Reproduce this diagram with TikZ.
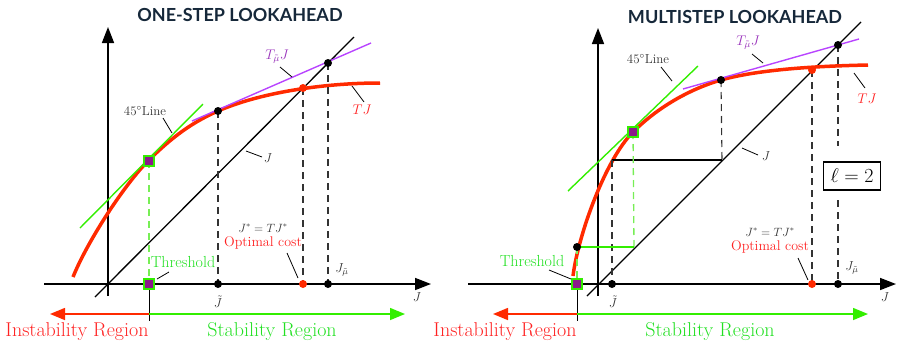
\RequirePackage{fix-cm}
\documentclass[tikz,border=0pt]{standalone}
\usepackage{fontspec}
\newfontfamily\titlefont{Lato}
\usetikzlibrary{arrows.meta}
\definecolor{cred}{HTML}{FF2A00}
\definecolor{cgreen}{HTML}{33EE00}
\definecolor{clgreen}{HTML}{77EE55}
\definecolor{cpurple}{HTML}{B844FF}
\definecolor{cpurplet}{HTML}{9933BB}
\definecolor{ctext}{HTML}{333333}
\definecolor{ctitle}{HTML}{16283A}
\definecolor{csq}{HTML}{8B1A8B}
\definecolor{ctred}{HTML}{FF2222}
\definecolor{ctgreen}{HTML}{22E022}
\begin{document}
\begin{tikzpicture}[x=1pt,y=-1pt,
  axis/.style={line width=1.6pt,-{Triangle[length=16pt,width=12pt]}},
  diag/.style={line width=1.3pt},
  curve/.style={cred,line width=3.5pt},
  tang/.style={cgreen,line width=1.4pt},
  plin/.style={cpurple,line width=1.4pt},
  dropline/.style={ctext,line width=1.1pt,dash pattern=on 7pt off 5pt},
  gdrop/.style={clgreen,line width=1.3pt,dash pattern=on 7pt off 5pt},
  dot/.style={circle,fill=black,inner sep=0pt,minimum size=8pt},
  rdot/.style={dot,fill=cred},
  sq/.style={rectangle,fill=csq,draw=cgreen,line width=1.8pt,inner sep=0pt,minimum size=10pt},
  lead/.style={line width=0.8pt},
  lbl/.style={font=\fontsize{13}{15}\selectfont,inner sep=1pt,text=ctext},
  title/.style={font=\titlefont\bfseries\fontsize{18}{20}\selectfont,text=ctitle},
  region/.style={font=\fontsize{20}{22}\selectfont},
  rarr/.style={cred,line width=1.5pt,-{Triangle[length=15pt,width=12pt]}},
  garr/.style={cgreen,line width=1.5pt,-{Triangle[length=15pt,width=12pt]}}
]
\useasboundingbox (0,0) rectangle (897,341);

% ================= LEFT PANEL =================
\node[title] (t1) at (240,15) {ONE-STEP LOOKAHEAD};
\coordinate (yb1) at (108,296); \coordinate (yt1) at (108,27);
\coordinate (xl1) at (44,284);  \coordinate (xr1) at (431,284);
\draw[axis] (yb1) -- (yt1);
\draw[axis] (xl1) -- (xr1);
\coordinate (d1a) at (95,297); \coordinate (d1b) at (354,37);
\draw[diag] (d1a) -- (d1b);
\draw[curve] (73,277) .. controls (88,240) and (125,184) .. (148,161)
  .. controls (173,136) and (193,122) .. (218,111)
  .. controls (258,93.5) and (320,83) .. (380,83);
\coordinate (pl1a) at (192,121); \coordinate (pl1b) at (371,43);
\draw[plin] (pl1a) -- (pl1b);
\coordinate (g1a) at (80,228); \coordinate (g1b) at (203,104);
\draw[tang] (g1a) -- (g1b);

\coordinate (p1) at (218,111);
\coordinate (r1) at (303,88);
\coordinate (q1) at (328,63);
\coordinate (a1) at (218,284);
\coordinate (ra1) at (303,284);
\coordinate (b1) at (328,284);
\draw[dropline] (p1) -- (a1);
\draw[dropline] (r1) -- (ra1);
\draw[dropline] (q1) -- (b1);
\coordinate (s1c) at (149,161); \coordinate (s0c) at (149,284);
\draw[gdrop] (s1c) -- (s0c);
\coordinate (m1) at (149,314); \coordinate (m1b) at (149,321);
\draw[line width=0.9pt] (s0c) -- (m1b);
\coordinate (re1) at (50,314); \coordinate (ge1) at (405,314);
\draw[rarr] (m1) -- (re1);
\draw[garr] (m1) -- (ge1);

\node[dot] (P1) at (p1) {};
\node[rdot] (R1) at (r1) {};
\node[dot] (Q1) at (q1) {};
\node[dot] (A1) at (a1) {};
\node[rdot] (RA1) at (ra1) {};
\node[dot] (B1) at (b1) {};
\node[sq] (S1) at (s1c) {};
\node[sq] (S0) at (s0c) {};

\node[lbl] (l45a) at (145,111) {$45^\circ$Line};
\coordinate (l45s) at (163,118); \coordinate (l45e) at (172,133);
\draw[lead] (l45s) -- (l45e);
\node[lbl,text=cpurplet,font=\fontsize{14}{16}\selectfont] (lt1) at (277,57) {$T_{\tilde\mu}J$};
\coordinate (lt1s) at (280,67); \coordinate (lt1e) at (292,77);
\draw[lead] (lt1s) -- (lt1e);
\node[lbl,text=ctred,font=\fontsize{14}{16}\selectfont] (ltj1) at (362,110) {$TJ$};
\coordinate (ltj1s) at (352,86); \coordinate (ltj1e) at (364,102);
\draw[lead] (ltj1s) -- (ltj1e);
\node[lbl] (lj1) at (268,158) {$J$};
\coordinate (lj1s) at (246,151); \coordinate (lj1e) at (262,157);
\draw[lead] (lj1s) -- (lj1e);
\node[lbl,font=\fontsize{12}{14}\selectfont] (ls1) at (263,228) {$J^*=TJ^*$};
\node[lbl,text=ctred,font=\fontsize{14}{16}\selectfont] (lo1) at (263,243) {Optimal cost};
\coordinate (lo1s) at (287,253); \coordinate (lo1e) at (298,278);
\draw[lead] (lo1s) -- (lo1e);
\node[lbl,text=ctgreen,font=\fontsize{16}{18}\selectfont] (lth1) at (183,262) {Threshold};
\coordinate (lth1s) at (157,279); \coordinate (lth1e) at (169,272);
\draw[lead] (lth1s) -- (lth1e);
\node[lbl,inner sep=0pt] (ljt1) at (218,302) {$\tilde J$};
\node[lbl] (ljm1) at (342,270) {$J_{\tilde\mu}$};
\node[lbl] (ljx1) at (417,297) {$J$};
\node[region,text=ctred] (ir1) at (77,332) {Instability Region};
\node[region,text=ctgreen] (sr1) at (272,332) {Stability Region};

% ================= RIGHT PANEL =================
\node[title] (t2) at (735,17) {MULTISTEP LOOKAHEAD};
\coordinate (yb2) at (598,296); \coordinate (yt2) at (598,28);
\coordinate (xl2) at (468,284); \coordinate (xr2) at (896,284);
\draw[axis] (yb2) -- (yt2);
\draw[axis] (xl2) -- (xr2);
\coordinate (d2a) at (587,296); \coordinate (d2b) at (861,22);
\draw[diag] (d2a) -- (d2b);
\draw[curve] (573,276) .. controls (578,236) and (605,160) .. (633,132)
  .. controls (658,107) and (690,89) .. (721,80)
  .. controls (760,69) and (820,66) .. (868,65);
\coordinate (pl2a) at (683,89); \coordinate (pl2b) at (859,39);
\draw[plin] (pl2a) -- (pl2b);
\coordinate (g2a) at (568,191); \coordinate (g2b) at (698,66);
\draw[tang] (g2a) -- (g2b);

\coordinate (p2) at (721,80);
\coordinate (h2a) at (612,160); \coordinate (h2b) at (722,160);
\coordinate (a2) at (612,284);
\coordinate (s2c) at (633,132);
\coordinate (k2) at (577,247); \coordinate (k2b) at (634,247);
\coordinate (s3c) at (577,284);
\coordinate (r2) at (812,70); \coordinate (ra2) at (812,284);
\coordinate (q2) at (838,45); \coordinate (b2) at (838,284);
\draw[diag] (h2a) -- (h2b);
\draw[dropline] (p2) -- (h2b);
\draw[dropline] (h2a) -- (a2);
\draw[gdrop] (s2c) -- (k2b);
\draw[tang] (k2) -- (k2b);
\draw[gdrop] (k2) -- (s3c);
\draw[dropline] (r2) -- (ra2);
\node[draw,line width=1.6pt,fill=white,minimum width=57pt,minimum height=28pt,inner sep=0pt,font=\fontsize{20}{22}\selectfont] (box) at (852,176) {$\ell = 2$};
\coordinate (qt2) at (838,146); \coordinate (qb2) at (838,200);
\draw[dropline] (q2) -- (qt2);
\draw[dropline] (qb2) -- (b2);
\coordinate (m2) at (577,314); \coordinate (m2b) at (577,321);
\draw[line width=0.9pt] (s3c) -- (m2b);
\coordinate (re2) at (493,314); \coordinate (ge2) at (868,314);
\draw[rarr] (m2) -- (re2);
\draw[garr] (m2) -- (ge2);

\node[dot] (P2) at (p2) {};
\node[dot] (A2) at (a2) {};
\node[dot] (K2) at (k2) {};
\node[rdot] (R2) at (r2) {};
\node[rdot] (RA2) at (ra2) {};
\node[dot] (Q2) at (q2) {};
\node[dot] (B2) at (b2) {};
\node[sq] (S2) at (s2c) {};
\node[sq] (S3) at (s3c) {};

\node[lbl] (l45b) at (648,59) {$45^\circ$Line};
\coordinate (l45bs) at (661,67); \coordinate (l45be) at (672,81);
\draw[lead] (l45bs) -- (l45be);
\node[lbl,text=cpurplet,font=\fontsize{14}{16}\selectfont] (lt2) at (748,43) {$T_{\tilde\mu}J$};
\coordinate (lt2s) at (752,54); \coordinate (lt2e) at (763,63);
\draw[lead] (lt2s) -- (lt2e);
\node[lbl,text=ctred,font=\fontsize{14}{16}\selectfont] (ltj2) at (867,99) {$TJ$};
\coordinate (ltj2s) at (854,73); \coordinate (ltj2e) at (865,88);
\draw[lead] (ltj2s) -- (ltj2e);
\node[lbl] (lj2) at (766,156) {$J$};
\coordinate (lj2s) at (742,148); \coordinate (lj2e) at (758,155);
\draw[lead] (lj2s) -- (lj2e);
\node[lbl,font=\fontsize{12}{14}\selectfont] (ls2) at (770,232) {$J^*=TJ^*$};
\node[lbl,text=ctred,font=\fontsize{14}{16}\selectfont] (lo2) at (770,247) {Optimal cost};
\coordinate (lo2s) at (798,258); \coordinate (lo2e) at (808,280);
\draw[lead] (lo2s) -- (lo2e);
\node[lbl,text=ctgreen,font=\fontsize{16}{18}\selectfont] (lth2) at (532,261) {Threshold};
\coordinate (lth2s) at (549,270); \coordinate (lth2e) at (571,279);
\draw[lead] (lth2s) -- (lth2e);
\node[lbl,inner sep=0pt] (ljt2) at (613,302) {$\tilde J$};
\node[lbl] (ljm2) at (852,268) {$J_{\tilde\mu}$};
\node[lbl] (ljx2) at (885,297) {$J$};
\node[region,text=ctred] (ir2) at (505,332) {Instability Region};
\node[region,text=ctgreen] (sr2) at (710,332) {Stability Region};
\end{tikzpicture}
\end{document}
